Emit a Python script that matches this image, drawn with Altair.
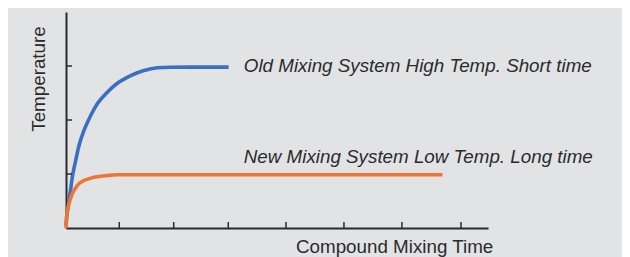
import altair as alt
import pandas as pd

# --- data ---
blue_x = [0, 0.012, 0.036, 0.071, 0.112, 0.172, 0.231, 0.32, 0.439, 0.556, 0.734, 0.912, 1.15, 1.386, 1.62, 1.86, 2.2, 2.89]
blue_y = [0.05, 0.2, 0.385, 0.633, 0.941, 1.25, 1.528, 1.806, 2.083, 2.30, 2.515, 2.68, 2.824, 2.917, 2.967, 2.978, 2.98, 2.98]
orange_x = [0, 0.012, 0.053, 0.112, 0.2, 0.32, 0.5, 0.734, 0.91, 1.3, 6.69]
orange_y = [0, 0.2, 0.448, 0.633, 0.787, 0.88, 0.94, 0.972, 0.985, 0.985, 0.985]
series_names = ["Old", "New"]
series_colors = ["#3a6fc1", "#f07533"]
x_ticks = [0.947, 1.914, 2.884, 3.91, 4.94, 5.97, 7.02]
y_ticks = [1, 2, 3]
labels = ["Old Mixing System High Temp. Short time", "New Mixing System Low Temp. Long time"]
label_x = [3.16, 3.16]
label_y = [2.88, 1.21]
x_title = "Compound Mixing Time"
y_title = "Temperature"

W, H = 422, 216
TEXT = "#2b2b2b"
FONT = "Liberation Sans"
FS = 18.8

lines = pd.DataFrame(
    [{"s": series_names[0], "x": x, "y": y, "o": i} for i, (x, y) in enumerate(zip(blue_x, blue_y))]
    + [{"s": series_names[1], "x": x, "y": y, "o": i} for i, (x, y) in enumerate(zip(orange_x, orange_y))]
)
xs = alt.Scale(domain=[0, 7.5], nice=False, zero=False)
ys = alt.Scale(domain=[0, 4], nice=False, zero=False)

line_layer = alt.Chart(lines).mark_line(strokeWidth=3.6, interpolate="monotone", strokeCap="butt").encode(
    x=alt.X("x:Q", scale=xs, axis=alt.Axis(title=None, labels=False, ticks=False, grid=False,
                                            domainColor=TEXT, domainWidth=2)),
    y=alt.Y("y:Q", scale=ys, axis=alt.Axis(title=None, labels=False, ticks=False, grid=False,
                                            domainColor=TEXT, domainWidth=2)),
    color=alt.Color("s:N", scale=alt.Scale(domain=series_names, range=series_colors), legend=None),
    detail="s:N",
    order="o:Q",
)

xt = alt.Chart(pd.DataFrame({"t": x_ticks})).mark_rule(color=TEXT, strokeWidth=1.5).encode(
    x=alt.X("t:Q", scale=xs), y=alt.value(H), y2=alt.value(H - 6)
)
yt = alt.Chart(pd.DataFrame({"t": y_ticks})).mark_rule(color=TEXT, strokeWidth=1.5).encode(
    y=alt.Y("t:Q", scale=ys), x=alt.value(0), x2=alt.value(6)
)

lab = alt.Chart(pd.DataFrame({"l": labels, "x": label_x, "y": label_y})).mark_text(
    align="left", baseline="alphabetic", font=FONT, fontSize=FS, fontStyle="italic", color=TEXT
).encode(x=alt.X("x:Q", scale=xs), y=alt.Y("y:Q", scale=ys), text="l:N")

xtitle = alt.Chart(pd.DataFrame({"l": [x_title]})).mark_text(
    align="right", baseline="alphabetic", font=FONT, fontSize=FS, color=TEXT
).encode(x=alt.value(427.3), y=alt.value(241), text="l:N")

ytitle = alt.Chart(pd.DataFrame({"l": [y_title]})).mark_text(
    align="center", baseline="alphabetic", font=FONT, fontSize=FS, color=TEXT, angle=270
).encode(x=alt.value(-21.5), y=alt.value(67), text="l:N")

chart = alt.layer(line_layer, xt, yt, lab, xtitle, ytitle).properties(
    width=W, height=H,
    autosize=alt.AutoSizeParams(type="none"),
    padding={"left": 58, "top": 4, "right": 134, "bottom": 29},
    background="#e2e3e5",
).configure_view(stroke=None)

chart.save("out.html", embed_options={"renderer": "svg", "actions": False})
